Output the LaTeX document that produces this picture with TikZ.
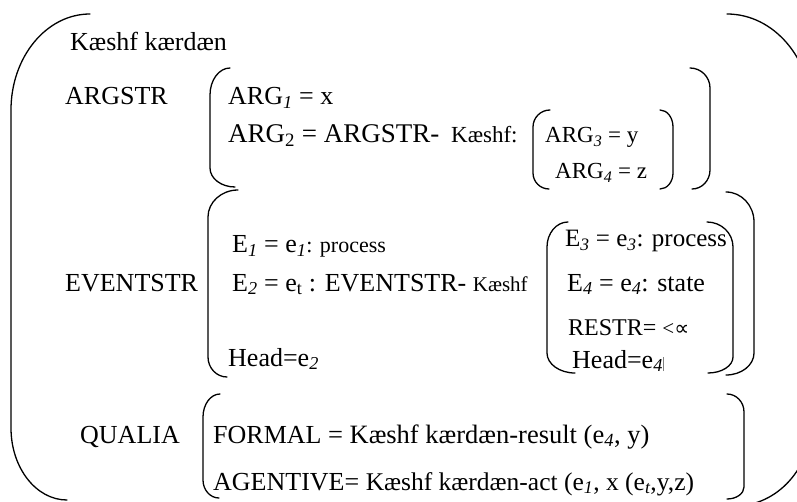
\documentclass[tikz,border=0pt]{standalone}
\usepackage{fontspec}
\setmainfont{Liberation Serif}
\newfontfamily\dvfont{DejaVu Sans}
\newcommand\fs[1]{\fontsize{#1}{#1}\selectfont}
\newcommand\si[1]{\textsubscript{\itshape #1}}
\newcommand\su[1]{\textsubscript{#1}}
% #1 vertical x, #2/#3 top tip, #4 top of straight part, #5 bottom of straight part, #6/#7 bottom tip
\newcommand\brkside[7]{\draw[brk] (#2,#3) .. controls ({#1+0.448*(#2-#1)},#3) and (#1,{#3+0.448*(#4-#3)}) .. (#1,#4) -- (#1,#5) .. controls (#1,{#7+0.448*(#5-#7)}) and ({#1+0.448*(#6-#1)},#7) .. (#6,#7);}
\begin{document}
\begin{tikzpicture}[x=1pt,y=-1pt,
  brk/.style={line width=1.3pt,line cap=round},
  txt/.style={anchor=base west,inner sep=0pt,font=\fs{26}}]
\useasboundingbox (0,0) rectangle (797,502);
\clip (0,0) rectangle (797,502);
% brackets
\brkside{11}{90}{14}{110}{428}{67}{500}
\brkside{812}{727}{14}{114}{420}{735}{506}
\brkside{210}{230}{68}{95}{168}{235}{187}
\brkside{710}{690}{68}{88}{170}{692}{189}
\brkside{208}{238}{190}{217}{357}{227}{377}
\brkside{754}{726}{192}{222}{353}{726}{375}
\brkside{533}{550}{110}{127}{173}{549}{189}
\brkside{673}{660}{110}{127}{173}{660}{189}
\brkside{547}{568}{222}{247}{353}{575}{373}
\brkside{733}{707}{222}{247}{357}{708}{373}
\brkside{203}{220}{394}{417}{480}{219}{498}
\brkside{744}{727}{394}{412}{487}{727}{499}
% texts
\node[txt] (title) at (70,51) {Kæshf kærdæn};
\node[txt] (argstr) at (65,105) {ARGSTR};
\node[txt] (arg1) at (228,105) {ARG\si{1} = x};
\node[txt,font=\fs{27}] (arg2) at (228,143) {ARG\su{2} = ARGSTR-\hspace{5pt} {\fs{23}Kæshf:}};
\node[txt,font=\fs{23}] (arg3) at (545,143) {ARG\si{3} = y};
\node[txt,font=\fs{23}] (arg4) at (555,179) {ARG\si{4} = z};
\node[txt] (evs) at (65,291) {EVENTSTR};
\node[txt] (e1) at (232,253) {E\si{1} = e\si{1}{\fs{22}: process}};
\node[txt] (e2) at (232,291) {E\si{2} = e\su{t} : EVENTSTR- {\fs{21}Kæshf}};
\node[txt] (h2) at (228,366) {Head=e\si{2}};
\node[txt,font=\fs{25}] (e3) at (565,247) {E\si{3} = e\si{3}: process};
\node[txt] (e4) at (567,291) {E\si{4} = e\si{4}: state};
\node[txt,font=\fs{24}] (restr) at (568,335) {RESTR= {\fs{21}<{\dvfont ∝}}};
\node[txt] (h4) at (572,368) {Head=e\si{4}\textcolor{gray}{\rule[-3pt]{0.6pt}{14pt}}};
\node[txt] (qualia) at (80,443) {QUALIA};
\node[txt] (formal) at (213,443) {FORMAL {\fs{26.5}= Kæshf kærdæn-result (e\si{4}, y)}};
\node[txt] (agent) at (213,490) {AGENTIVE= {\fs{25.5}Kæshf kærdæn-act (e\si{1}, x (e\si{t},y,z)}};
\end{tikzpicture}
\end{document}
